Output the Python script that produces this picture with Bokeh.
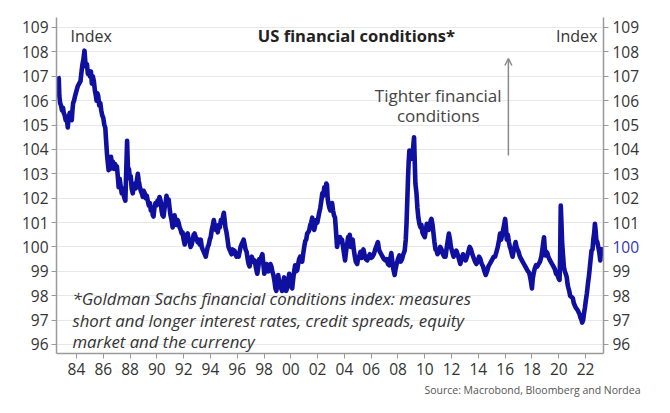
from bokeh.plotting import figure
from bokeh.models import (LinearAxis, FixedTicker, Label, Arrow, OpenHead,
                          ColumnDataSource, Range1d, Title)
from bokeh.embed import file_html
from bokeh.resources import INLINE

# ---- data ----
year = [
1982.62,1982.68,1982.72,1982.78,1982.85,1982.92,1983.0,1983.05,1983.12,1983.2,
1983.28,1983.35,1983.42,1983.5,1983.57,1983.65,1983.7,1983.75,1983.82,1983.9,
1984.0,1984.1,1984.2,1984.3,1984.38,1984.45,1984.52,1984.6,1984.66,1984.72,
1984.78,1984.85,1984.92,1985.0,1985.08,1985.15,1985.22,1985.3,1985.38,1985.45,
1985.5,1985.56,1985.62,1985.7,1985.78,1985.85,1985.92,1986.0,1986.08,1986.15,
1986.22,1986.28,1986.35,1986.4,1986.46,1986.52,1986.58,1986.65,1986.72,1986.8,
1986.88,1986.95,1987.02,1987.1,1987.15,1987.22,1987.3,1987.38,1987.45,1987.5,
1987.58,1987.65,1987.72,1987.78,1987.82,1987.86,1987.92,1987.98,1988.05,1988.12,
1988.2,1988.28,1988.35,1988.42,1988.5,1988.58,1988.65,1988.72,1988.8,1988.88,
1988.95,1989.02,1989.1,1989.18,1989.25,1989.32,1989.4,1989.48,1989.55,1989.62,
1989.7,1989.75,1989.82,1989.9,1989.98,1990.05,1990.12,1990.2,1990.28,1990.35,
1990.42,1990.5,1990.58,1990.65,1990.72,1990.8,1990.88,1990.95,1991.02,1991.1,
1991.18,1991.25,1991.32,1991.4,1991.48,1991.55,1991.62,1991.7,1991.78,1991.85,
1991.92,1992.0,1992.08,1992.15,1992.22,1992.3,1992.38,1992.45,1992.52,1992.6,
1992.68,1992.75,1992.82,1992.9,1992.98,1993.05,1993.12,1993.2,1993.28,1993.35,
1993.42,1993.5,1993.58,1993.65,1993.72,1993.8,1993.88,1993.95,1994.02,1994.1,
1994.18,1994.25,1994.32,1994.4,1994.48,1994.55,1994.62,1994.7,1994.78,1994.85,
1994.92,1995.0,1995.06,1995.12,1995.2,1995.28,1995.35,1995.42,1995.5,1995.58,
1995.65,1995.72,1995.8,1995.88,1995.95,1996.02,1996.1,1996.18,1996.25,1996.32,
1996.4,1996.48,1996.55,1996.62,1996.7,1996.78,1996.85,1996.92,1997.0,1997.08,
1997.15,1997.22,1997.3,1997.38,1997.45,1997.5,1997.58,1997.65,1997.72,1997.8,
1997.88,1997.95,1998.02,1998.1,1998.18,1998.25,1998.32,1998.4,1998.48,1998.55,
1998.62,1998.7,1998.78,1998.85,1998.92,1999.0,1999.06,1999.12,1999.2,1999.28,
1999.35,1999.42,1999.5,1999.58,1999.65,1999.72,1999.8,1999.88,1999.95,2000.02,
2000.1,2000.18,2000.25,2000.32,2000.4,2000.48,2000.55,2000.62,2000.7,2000.78,
2000.85,2000.92,2001.0,2001.08,2001.15,2001.22,2001.3,2001.38,2001.45,2001.52,
2001.6,2001.68,2001.75,2001.82,2001.9,2001.98,2002.05,2002.12,2002.2,2002.28,
2002.35,2002.42,2002.5,2002.58,2002.65,2002.7,2002.75,2002.8,2002.88,2002.95,
2003.02,2003.08,2003.15,2003.22,2003.3,2003.38,2003.45,2003.52,2003.6,2003.68,
2003.75,2003.82,2003.9,2003.98,2004.05,2004.12,2004.2,2004.28,2004.35,2004.4,
2004.48,2004.55,2004.62,2004.7,2004.78,2004.85,2004.95,2005.02,2005.1,2005.2,
2005.28,2005.35,2005.42,2005.5,2005.6,2005.7,2005.8,2005.9,2006.0,2006.1,
2006.2,2006.3,2006.4,2006.5,2006.58,2006.65,2006.75,2006.85,2006.95,2007.05,
2007.15,2007.25,2007.35,2007.42,2007.5,2007.58,2007.65,2007.75,2007.82,2007.9,
2008.0,2008.1,2008.2,2008.3,2008.4,2008.5,2008.58,2008.64,2008.7,2008.75,
2008.8,2008.85,2008.92,2009.0,2009.08,2009.15,2009.2,2009.25,2009.3,2009.38,
2009.45,2009.52,2009.6,2009.68,2009.75,2009.82,2009.9,2010.0,2010.08,2010.15,
2010.22,2010.3,2010.38,2010.45,2010.5,2010.58,2010.65,2010.72,2010.8,2010.88,
2010.95,2011.05,2011.15,2011.25,2011.35,2011.45,2011.55,2011.62,2011.7,2011.8,
2011.88,2011.95,2012.05,2012.15,2012.25,2012.35,2012.45,2012.55,2012.65,2012.75,
2012.85,2012.95,2013.05,2013.15,2013.25,2013.35,2013.45,2013.55,2013.65,2013.75,
2013.85,2013.95,2014.05,2014.15,2014.25,2014.35,2014.45,2014.55,2014.65,2014.75,
2014.85,2014.95,2015.05,2015.15,2015.25,2015.35,2015.45,2015.55,2015.62,2015.7,
2015.78,2015.85,2015.92,2016.0,2016.06,2016.12,2016.2,2016.28,2016.35,2016.42,
2016.5,2016.55,2016.62,2016.7,2016.78,2016.85,2016.92,2017.0,2017.1,2017.2,
2017.3,2017.4,2017.5,2017.6,2017.7,2017.78,2017.85,2017.92,2018.0,2018.06,
2018.12,2018.2,2018.3,2018.4,2018.5,2018.6,2018.7,2018.78,2018.85,2018.9,
2018.95,2019.0,2019.08,2019.15,2019.22,2019.3,2019.4,2019.5,2019.6,2019.7,
2019.8,2019.9,2020.0,2020.06,2020.1,2020.15,2020.2,2020.25,2020.3,2020.38,
2020.45,2020.52,2020.6,2020.65,2020.7,2020.78,2020.85,2020.95,2021.05,2021.12,
2021.2,2021.28,2021.35,2021.42,2021.5,2021.55,2021.62,2021.7,2021.75,2021.82,
2021.88,2021.95,2022.02,2022.1,2022.18,2022.25,2022.3,2022.38,2022.45,2022.52,
2022.58,2022.65,2022.7,2022.75,2022.8,2022.88,2022.95,2023.02,2023.1,2023.15,
2023.2,
]
fci = [
107.0,106.9,106.2,105.9,105.8,105.6,105.7,105.5,105.4,105.2,
105.3,104.9,105.3,105.5,105.3,105.2,105.6,105.9,106.0,106.2,
106.4,106.6,106.7,106.8,107.2,107.5,107.7,108.05,107.6,107.4,
107.5,107.1,107.2,107.0,107.2,106.7,107.0,106.8,106.4,106.2,
106.0,106.3,106.2,105.8,105.9,105.6,105.4,105.3,105.0,104.9,
104.3,103.8,103.4,103.15,103.5,103.2,103.7,103.3,103.5,103.2,
103.4,103.2,103.3,102.8,102.45,102.8,102.5,102.2,102.4,102.2,
102.0,101.9,103.2,104.35,103.6,103.0,103.2,102.8,102.9,102.4,
102.2,102.5,102.6,102.4,102.7,103.0,102.7,102.5,102.3,102.2,
102.05,102.3,102.2,102.0,102.1,101.9,101.7,101.8,101.5,101.6,
101.3,101.25,101.6,101.8,101.7,101.9,101.8,102.05,101.9,101.5,
101.3,101.25,101.6,101.8,102.1,101.8,101.95,101.6,101.3,101.1,
100.8,101.1,101.3,101.1,100.9,101.1,101.0,100.8,100.7,100.55,
100.6,100.3,100.1,100.3,100.5,100.55,100.3,100.2,100.0,100.1,
100.3,100.5,100.55,100.4,100.3,100.2,100.3,100.1,100.3,100.0,
99.9,99.8,99.7,99.6,99.8,100.0,100.1,100.3,100.4,100.7,
100.9,101.1,100.9,100.7,100.8,100.6,100.9,100.8,101.1,101.0,
101.2,101.4,101.1,100.8,100.6,100.3,100.0,99.9,99.8,99.7,
99.9,99.8,99.85,99.7,99.6,99.7,99.6,99.8,100.0,100.1,
100.2,100.3,100.1,99.9,99.8,99.5,99.3,99.2,99.4,99.6,
99.5,99.4,99.45,99.2,99.0,98.9,99.2,99.5,99.4,99.6,
99.7,99.3,98.9,99.1,99.3,99.2,99.0,99.1,99.3,99.2,
99.0,98.85,98.6,98.3,98.2,98.5,98.85,98.6,98.4,98.3,
98.2,98.5,98.75,98.5,98.2,98.3,98.6,98.9,98.7,98.4,
98.3,98.7,99.0,99.25,99.0,99.05,99.3,99.5,99.6,99.5,
99.4,99.7,100.0,100.25,100.3,100.55,100.6,100.7,100.9,101.0,
101.2,100.8,100.7,100.9,101.1,101.0,101.2,101.4,101.6,101.9,
102.2,102.1,102.45,102.3,102.6,102.55,102.0,101.8,101.6,101.5,
101.7,101.8,101.5,101.3,101.2,100.6,100.0,100.2,100.3,100.4,
100.2,100.3,100.0,99.7,99.45,99.8,100.1,100.4,100.3,100.5,
100.0,100.2,100.3,99.9,99.6,99.4,99.3,99.5,99.6,99.8,
99.55,99.7,99.9,99.7,99.5,99.45,99.6,99.7,99.55,99.6,
99.7,99.9,100.05,100.2,99.9,99.8,99.7,99.6,99.5,99.45,
99.5,99.3,99.25,99.5,99.75,99.4,99.1,98.85,99.1,99.3,
99.5,99.65,99.4,99.5,99.7,99.85,100.3,101.0,102.0,102.85,
103.5,103.95,103.6,103.8,103.7,104.2,104.5,103.5,102.6,102.2,
101.6,101.2,100.95,100.8,100.9,100.6,100.5,100.4,100.7,100.95,
100.8,100.7,100.9,101.1,101.15,100.9,100.55,100.2,99.9,99.85,
99.7,99.8,100.0,99.9,99.7,99.6,99.6,99.9,100.2,100.55,
100.3,100.0,99.8,99.6,99.7,99.85,99.7,99.5,99.3,99.5,
99.7,99.6,99.45,99.6,99.8,100.0,99.9,99.7,99.55,99.4,
99.3,99.4,99.6,99.5,99.3,99.2,99.0,98.85,99.0,99.2,
99.3,99.4,99.5,99.6,99.6,99.8,100.0,100.3,100.55,100.3,
100.5,100.7,100.9,101.15,100.8,100.3,100.5,100.2,100.0,99.9,
99.7,99.6,99.8,100.0,100.2,100.0,99.9,99.8,99.6,99.5,
99.4,99.3,99.2,99.1,99.0,98.95,98.8,98.6,98.3,98.7,
98.9,99.1,99.25,99.2,99.3,99.4,99.6,99.9,100.2,100.4,
100.0,99.65,99.8,99.75,99.6,99.5,99.4,99.3,99.2,99.1,
98.9,98.85,98.7,98.65,99.5,101.7,101.0,100.2,99.8,99.2,
99.0,98.9,98.75,98.5,98.35,98.2,98.0,97.95,97.9,97.7,
97.6,97.5,97.45,97.4,97.3,97.25,97.1,97.0,96.9,97.0,
97.25,97.5,97.8,98.1,98.5,98.8,99.05,99.5,99.85,99.9,
100.3,100.6,100.95,100.7,100.3,100.2,100.0,99.8,99.45,99.8,
100.0,
]
x_ticks = list(range(1984, 2023, 2))
x_tick_labels = [f"{t % 100:02d}" for t in x_ticks]
y_ticks = list(range(96, 110))
highlight_tick = 100

FONT = "Open Sans"
LABEL_COLOR = "#333333"
AXIS_COLOR = "#9a9a9a"
LINE_COLOR = "#0f0fa0"
X0, X1 = 1982.51, 2023.34
Y0, Y1 = 95.63, 109.41

p = figure(width=670, height=413, output_backend="svg", toolbar_location=None,
           x_range=Range1d(X0, X1), y_range=Range1d(Y0, Y1),
           min_border_left=56, min_border_right=67, min_border_top=17,
           min_border_bottom=60)
p.outline_line_color = None
p.background_fill_color = "white"
p.border_fill_color = "white"

src = ColumnDataSource(dict(year=year, fci=fci))
p.line("year", "fci", source=src, line_color=LINE_COLOR, line_width=4.6,
       line_join="round")

# grid
p.xgrid.grid_line_color = None
p.ygrid.grid_line_color = "#e8e8e8"
p.ygrid.grid_line_width = 1
p.ygrid.ticker = FixedTicker(ticks=y_ticks)

def style_axis(ax):
    ax.axis_line_color = AXIS_COLOR
    ax.axis_line_width = 1.5
    ax.major_tick_line_color = AXIS_COLOR
    ax.major_tick_in = 0
    ax.major_tick_out = 5
    ax.minor_tick_line_color = None
    ax.major_label_text_font = FONT
    ax.major_label_text_font_size = "15.5px"
    ax.major_label_text_color = LABEL_COLOR

# x axis
xa = p.xaxis[0]
xa.ticker = FixedTicker(ticks=x_ticks)
xa.major_label_overrides = {t: l for t, l in zip(x_ticks, x_tick_labels)}
style_axis(xa)
xa.major_label_standoff = 4

# left y axis
ya = p.yaxis[0]
ya.ticker = FixedTicker(ticks=y_ticks)
style_axis(ya)
ya.major_label_standoff = 3

# right y axis (grey labels, 100 left blank and re-drawn in blue)
yr = LinearAxis(ticker=FixedTicker(ticks=y_ticks))
style_axis(yr)
yr.major_label_standoff = 4
yr.major_label_overrides = {highlight_tick: " "}
p.add_layout(yr, "right")

# blue "100" placed in the right side panel (so it is not clipped to the frame)
p.add_layout(Label(x=X1 + 9 / 13.4, y=highlight_tick, text=str(highlight_tick),
                   text_font=FONT, text_font_size="15.5px", text_color="#3434b8",
                   text_align="left", text_baseline="middle"), "right")

# texts
p.add_layout(Label(x=2004.9, y=108.67, text="US financial conditions*",
                   text_font=FONT, text_font_size="16.5px", text_font_style="bold",
                   text_color="#222222", text_align="center",
                   text_baseline="middle"))
p.add_layout(Label(x=1983.55, y=108.67, text="Index", text_font=FONT,
                   text_font_size="16px", text_color=LABEL_COLOR,
                   text_align="left", text_baseline="middle"))
p.add_layout(Label(x=2022.88, y=108.67, text="Index", text_font=FONT,
                   text_font_size="16px", text_color=LABEL_COLOR,
                   text_align="right", text_baseline="middle"))
p.add_layout(Label(x=2011.0, y=106.21, text="Tighter financial",
                   text_font=FONT, text_font_size="17px", text_color="#444444",
                   text_align="center", text_baseline="middle"))
p.add_layout(Label(x=2011.0, y=105.39, text="conditions",
                   text_font=FONT, text_font_size="17px", text_color="#444444",
                   text_align="center", text_baseline="middle"))
p.add_layout(Arrow(x_start=2016.24, y_start=103.75, x_end=2016.24, y_end=107.73,
                   line_color="#8a8a8a", line_width=1.5,
                   end=OpenHead(size=7, line_color="#8a8a8a", line_width=1.5)))

foot = ["*Goldman Sachs financial conditions index: measures",
        "short and longer interest rates, credit spreads, equity",
        "market and the currency"]
for txt, yy in zip(foot, [97.89, 96.99, 96.13]):
    p.add_layout(Label(x=1983.7, y=yy, text=txt, text_font=FONT,
                       text_font_size="16.8px", text_font_style="italic",
                       text_color=LABEL_COLOR, text_align="left",
                       text_baseline="middle"))

p.add_layout(Title(text="Source: Macrobond, Bloomberg and Nordea", align="right",
                   offset=-37, standoff=7, text_font=FONT, text_font_size="10.5px",
                   text_font_style="normal", text_color="#555555"), "below")

open("out.html", "w").write(file_html(p, INLINE))
